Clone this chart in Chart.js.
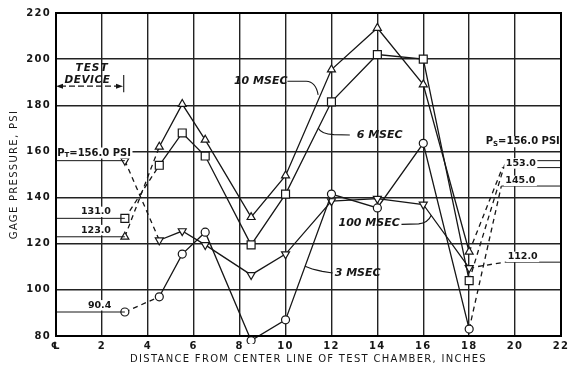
<!DOCTYPE html>
<html><head><meta charset="utf-8">
<script src="https://cdn.jsdelivr.net/npm/chart.js@4/dist/chart.umd.min.js"></script>
<style>html,body{margin:0;padding:0;background:#fff;}canvas{display:block;}</style>
</head><body>
<canvas id="c" width="569" height="369"></canvas>
<script>
// ---- data ----
const xPositions = [3, 4.5, 5.5, 6.5, 8.5, 10, 12, 14, 16, 18];
const msec10  = [123.0, 162, 180.5, 165, 131.5, 149.5, 195.5, 213.5, 189, 116.5];
const msec6   = [131.0, 154, 168, 158, 119.5, 141.5, 181.5, 202, 200, 104];
const msec3   = [90.4, 97, 115.5, 125, 78, 87, 141.5, 135.5, 163.5, 83];
const msec100 = [156.0, 121.5, 125.5, 119.5, 106.5, 115.5, 138.5, 139.5, 137, 109.5];
const endX      = [19.45, 19.6, 19.4, 19.55];      // 10, 6, 3, 100 MSEC
const endValues = [153.0, 156.0, 145.0, 112.0];
const xTickValues = [0, 2, 4, 6, 8, 10, 12, 14, 16, 18, 20, 22];
const xTickLabels = ['\u2104', '2', '4', '6', '8', '10', '12', '14', '16', '18', '20', '22'];
const yTickValues = [80, 100, 120, 140, 160, 180, 200, 220];
const xTitle = 'DISTANCE FROM CENTER LINE OF TEST CHAMBER, INCHES';
const yTitle = 'GAGE PRESSURE, PSI';

const INK = '#161616';
const series = [
  {label: '10 MSEC',  vals: msec10,  style: 'triangle', rot: 0,   r: 4.6},
  {label: '6 MSEC',   vals: msec6,   style: 'rect',     rot: 0,   r: 5.6},
  {label: '3 MSEC',   vals: msec3,   style: 'circle',   rot: 0,   r: 4.0},
  {label: '100 MSEC', vals: msec100, style: 'triangle', rot: 180, r: 4.6}
];

const datasets = [];
// reference lines from the axes to the first / last readings
series.forEach((s, k) => {
  datasets.push({label: s.label + ' start', data: [{x: xTickValues[0], y: s.vals[0]}, {x: xPositions[0], y: s.vals[0]}],
    borderColor: INK, borderWidth: 1, pointRadius: 0, fill: false});
  datasets.push({label: s.label + ' end', data: [{x: endX[k], y: endValues[k]}, {x: xTickValues[xTickValues.length - 1], y: endValues[k]}],
    borderColor: INK, borderWidth: 1, pointRadius: 0, fill: false});
});
series.forEach((s, k) => {
  const pts = xPositions.map((x, i) => ({x: x, y: s.vals[i]}));
  pts.push({x: endX[k], y: endValues[k]});
  const n = pts.length;
  datasets.push({
    label: s.label, data: pts, borderColor: INK, borderWidth: 1.3, fill: false, clip: 8,
    pointStyle: s.style, pointRotation: s.rot, pointBackgroundColor: '#fff', pointBorderColor: INK, pointBorderWidth: 1.2,
    pointRadius: c => c.dataIndex === n - 1 ? 0 : s.r,
    segment: {borderDash: c => (c.p0DataIndex === 0 || c.p1DataIndex === n - 1) ? [5, 4] : undefined}
  });
});

// ---- annotations (positions in data units) ----
const B10 = 'bold 10px "DejaVu Sans"', B9 = 'bold 9.5px "DejaVu Sans"', IT = 'italic bold 11px "DejaVu Sans"', IT2 = 'italic bold 10.5px "DejaVu Sans"';
const notes = [
  {parts: [{s: '10 MSEC'}], x: 8.92, y: 190.6, font: IT, align: 'center'},
  {parts: [{s: '6 MSEC'}], x: 14.1, y: 167.1, font: IT, align: 'center'},
  {parts: [{s: '100 MSEC'}], x: 13.64, y: 128.8, font: IT, align: 'center'},
  {parts: [{s: '3 MSEC'}], x: 13.14, y: 107.1, font: IT, align: 'center'},
  {parts: [{s: 'TEST'}], x: 1.57, y: 196.1, font: IT2, align: 'center', ls: 1},
  {parts: [{s: 'DEVICE'}], x: 1.37, y: 190.9, font: IT2, align: 'center', ls: 0.5},
  {parts: [{s: 'P'}, {s: 'T', sub: true}, {s: '=156.0 PSI'}], x: 0.05, y: 159.3, font: B10, align: 'left', bg: true},
  {parts: [{s: '131.0'}], x: 1.74, y: 133.8, font: B9, align: 'center', bg: true},
  {parts: [{s: '123.0'}], x: 1.74, y: 125.9, font: B9, align: 'center', bg: true},
  {parts: [{s: '90.4'}], x: 1.9, y: 93.3, font: B9, align: 'center', bg: true},
  {parts: [{s: 'P'}, {s: 'S', sub: true}, {s: '=156.0 PSI'}], x: 18.72, y: 164.2, font: B10, align: 'left', bg: true},
  {parts: [{s: '153.0'}], x: 20.25, y: 154.8, font: B9, align: 'center', bg: true},
  {parts: [{s: '145.0'}], x: 20.23, y: 147.25, font: B9, align: 'center', bg: true},
  {parts: [{s: '112.0'}], x: 20.33, y: 114.3, font: B9, align: 'center', bg: true}
];
const leaders = [
  {p: [[10.08, 190.4], [10.9, 190.4]], q: [[11.32, 190.2], [11.42, 184.5]]},
  {p: [[12.8, 167.1], [12.1, 167.3]], q: [[11.55, 167.6], [11.42, 170.2]]},
  {p: [[12.05, 107.3], [11.6, 108.0]], q: [[11.1, 109.0], [10.85, 110.2]]},
  {p: [[15.05, 128.4], [15.8, 128.6]], q: [[16.2, 128.9], [16.35, 132.3]]}
];
const device = {x0: 0, x1: 2.92, y: 188.3, barX: 2.95, barY0: 193.1, barY1: 185.7};

const spacing = {
  id: 'spacing',
  beforeUpdate(ch) { ch.ctx.letterSpacing = '1.3px'; },
  beforeLayout(ch) { ch.ctx.letterSpacing = '1.3px'; },
  beforeDraw(ch) { ch.ctx.letterSpacing = '1.3px'; }
};
const annot = {
  id: 'annot',
  afterDatasetsDraw(ch) {
    const {ctx, scales: {x, y}} = ch;
    const px = v => x.getPixelForValue(v), py = v => y.getPixelForValue(v);
    ctx.save();
    ctx.strokeStyle = INK; ctx.fillStyle = INK; ctx.lineWidth = 1.1; ctx.setLineDash([]);
    leaders.forEach(l => {
      ctx.beginPath();
      ctx.moveTo(px(l.p[0][0]), py(l.p[0][1]));
      ctx.lineTo(px(l.p[1][0]), py(l.p[1][1]));
      ctx.quadraticCurveTo(px(l.q[0][0]), py(l.q[0][1]), px(l.q[1][0]), py(l.q[1][1]));
      ctx.stroke();
    });
    // test device arrow
    const ay = py(device.y), ax0 = px(device.x0), ax1 = px(device.x1);
    ctx.setLineDash([6, 3]);
    ctx.beginPath(); ctx.moveTo(ax0 + 4, ay); ctx.lineTo(ax1 - 4, ay); ctx.stroke();
    ctx.setLineDash([]);
    ctx.beginPath(); ctx.moveTo(ax0, ay); ctx.lineTo(ax0 + 7, ay - 2.5); ctx.lineTo(ax0 + 7, ay + 2.5); ctx.closePath(); ctx.fill();
    ctx.beginPath(); ctx.moveTo(ax1, ay); ctx.lineTo(ax1 - 7, ay - 2.5); ctx.lineTo(ax1 - 7, ay + 2.5); ctx.closePath(); ctx.fill();
    ctx.beginPath(); ctx.moveTo(px(device.barX), py(device.barY0)); ctx.lineTo(px(device.barX), py(device.barY1)); ctx.stroke();
    // texts
    ctx.textBaseline = 'middle'; ctx.textAlign = 'left';
    notes.forEach(t => {
      ctx.letterSpacing = (t.ls || 0) + 'px';
      const size = parseFloat(t.font.match(/([\d.]+)px/)[1]);
      const subFont = t.font.replace(/[\d.]+px/, (size * 0.7).toFixed(1) + 'px');
      let w = 0;
      t.parts.forEach(p => { ctx.font = p.sub ? subFont : t.font; p.w = ctx.measureText(p.s).width; w += p.w; });
      let x0 = px(t.x); const yc = py(t.y);
      if (t.align === 'center') x0 -= w / 2;
      if (t.bg) { ctx.fillStyle = '#fff'; ctx.fillRect(x0 - 1.5, yc - size * 0.55, w + 3, size * 1.1); }
      ctx.fillStyle = INK;
      let cx = x0;
      t.parts.forEach(p => { ctx.font = p.sub ? subFont : t.font; ctx.fillText(p.s, cx, yc + (p.sub ? size * 0.25 : 0)); cx += p.w; });
    });
    ctx.restore();
  }
};
const frame = {
  id: 'frame',
  afterDraw(ch) {
    const a = ch.chartArea, ctx = ch.ctx;
    ctx.save(); ctx.strokeStyle = '#000'; ctx.lineWidth = 2; ctx.setLineDash([]);
    ctx.strokeRect(a.left, a.top, a.right - a.left, a.bottom - a.top); ctx.restore();
  }
};

new Chart(document.getElementById('c'), {
  type: 'line',
  data: {datasets},
  options: {
    responsive: false, animation: false, devicePixelRatio: 1,
    layout: {padding: {top: 13, right: 8, left: 0, bottom: 0}},
    plugins: {legend: {display: false}, tooltip: {enabled: false}},
    elements: {line: {tension: 0}},
    scales: {
      x: {
        type: 'linear', min: xTickValues[0], max: xTickValues[xTickValues.length - 1],
        afterBuildTicks: s => { s.ticks = xTickValues.map(v => ({value: v})); },
        ticks: {autoSkip: false, maxRotation: 0, padding: 4, color: INK, font: {family: 'DejaVu Sans', size: 10, weight: 'bold'},
          callback: v => xTickLabels[xTickValues.indexOf(v)]},
        grid: {color: '#222', lineWidth: 1.4, drawTicks: false},
        border: {color: '#000', width: 2},
        title: {display: true, text: xTitle, color: INK, font: {family: 'DejaVu Sans', size: 10}, padding: {top: 0, bottom: 4}},
        afterFit: s => { s.height = 33; s.paddingLeft = 0; s.paddingRight = 0; }
      },
      y: {
        min: yTickValues[0], max: yTickValues[yTickValues.length - 1],
        afterBuildTicks: s => { s.ticks = yTickValues.map(v => ({value: v})); },
        ticks: {padding: 5, color: INK, font: {family: 'DejaVu Sans', size: 10, weight: 'bold'}},
        grid: {color: '#222', lineWidth: 1.4, drawTicks: false},
        border: {color: '#000', width: 2},
        title: {display: true, text: yTitle, color: INK, font: {family: 'DejaVu Sans', size: 10}, padding: {top: 8, bottom: 0}},
        afterFit: s => { s.width = 56; s.paddingTop = 0; s.paddingBottom = 0; }
      }
    }
  },
  plugins: [spacing, annot, frame]
});
</script>
</body></html>
